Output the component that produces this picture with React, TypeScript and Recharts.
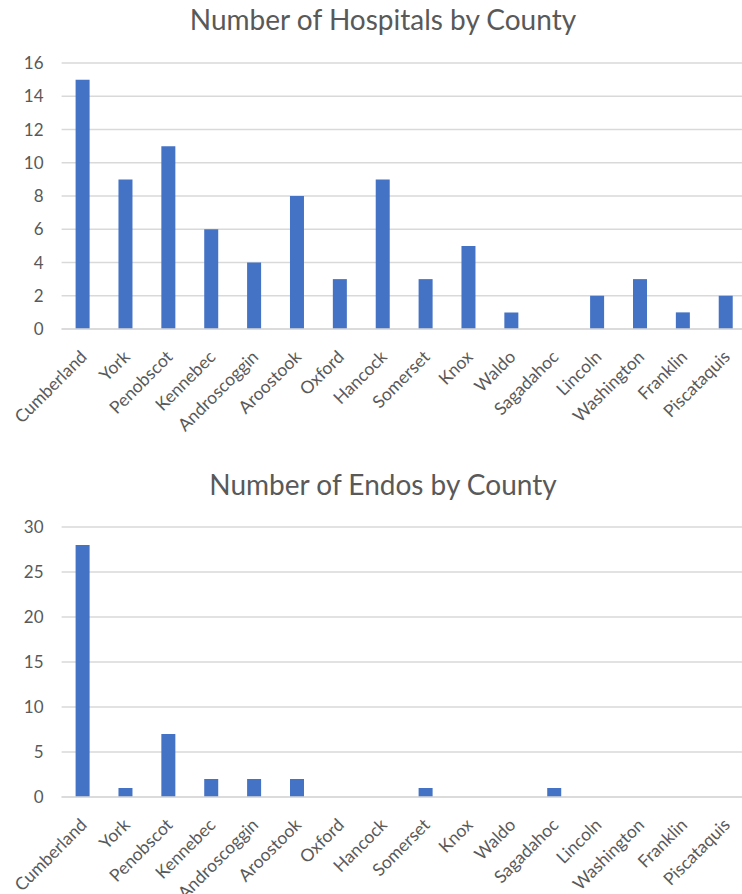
import React from 'react'
import { BarChart, Bar, XAxis, YAxis, CartesianGrid } from 'recharts'

const counties = [
  'Cumberland', 'York', 'Penobscot', 'Kennebec', 'Androscoggin', 'Aroostook',
  'Oxford', 'Hancock', 'Somerset', 'Knox', 'Waldo', 'Sagadahoc',
  'Lincoln', 'Washington', 'Franklin', 'Piscataquis'
]
const hospitals = [15, 9, 11, 6, 4, 8, 3, 9, 3, 5, 1, 0, 2, 3, 1, 2]
const endos = [28, 1, 7, 2, 2, 2, 0, 0, 1, 0, 0, 1, 0, 0, 0, 0]
const hospitalTicks = [0, 2, 4, 6, 8, 10, 12, 14, 16]
const endoTicks = [0, 5, 10, 15, 20, 25, 30]

const FONT = 'Lato, "Open Sans", sans-serif'
const TEXT = '#595959'
const GRID = '#d9d9d9'
const BLUE = '#4472C4'

const hospitalData = counties.map((name, i) => ({ name, value: hospitals[i] }))
const endoData = counties.map((name, i) => ({ name, value: endos[i] }))

// county names slanted up to the right, anchored under each bar
const SlantTick = ({ x, y, payload }: any) => (
  <g transform={`translate(${x + 5},${y + 29})`}>
    <text
      textAnchor="end"
      transform="rotate(-45)"
      fill={TEXT}
      fontSize={17.5}
      fontFamily={FONT}
    >
      {payload.value}
    </text>
  </g>
)

interface CountyChartProps {
  data: { name: string; value: number }[]
  ticks: number[]
  top: number
  height: number
  plotHeight: number
  title: string
  titleY: number
}

const CountyChart = ({ data, ticks, top, height, plotHeight, title, titleY }: CountyChartProps) => (
  <>
    <div
      style={{
        position: 'absolute',
        left: 12,
        width: 742,
        top: titleY - 18,
        height: 36,
        lineHeight: '36px',
        textAlign: 'center',
        fontFamily: FONT,
        fontSize: 28,
        color: TEXT,
        whiteSpace: 'nowrap'
      }}
    >
      {title}
    </div>
    <div style={{ position: 'absolute', left: 0, top }}>
      <BarChart
        width={760}
        height={height}
        data={data}
        margin={{ top: 63, right: 12.4, left: 0, bottom: 0 }}
      >
        <CartesianGrid vertical={false} stroke={GRID} strokeWidth={1.5} />
        <XAxis
          dataKey="name"
          interval={0}
          tickLine={false}
          tickSize={0}
          tickMargin={0}
          height={height - 63 - plotHeight}
          axisLine={{ stroke: GRID, strokeWidth: 1.5 }}
          tick={<SlantTick />}
        />
        <YAxis
          width={61.6}
          domain={[ticks[0], ticks[ticks.length - 1]]}
          ticks={ticks}
          axisLine={false}
          tickLine={false}
          tickMargin={12}
          tick={{ fill: TEXT, fontSize: 17, fontFamily: FONT }}
        />
        <Bar dataKey="value" fill={BLUE} barSize={14} isAnimationActive={false} />
      </BarChart>
    </div>
  </>
)

export default function App() {
  return (
    <div
      style={{
        position: 'absolute',
        left: 0,
        top: 0,
        width: 742,
        height: 894,
        overflow: 'hidden',
        background: '#fff'
      }}
    >
      <CountyChart
        data={hospitalData}
        ticks={hospitalTicks}
        top={0}
        height={440}
        plotHeight={266}
        title="Number of Hospitals by County"
        titleY={19}
      />
      <CountyChart
        data={endoData}
        ticks={endoTicks}
        top={464}
        height={430}
        plotHeight={270}
        title="Number of Endos by County"
        titleY={484}
      />
    </div>
  )
}
